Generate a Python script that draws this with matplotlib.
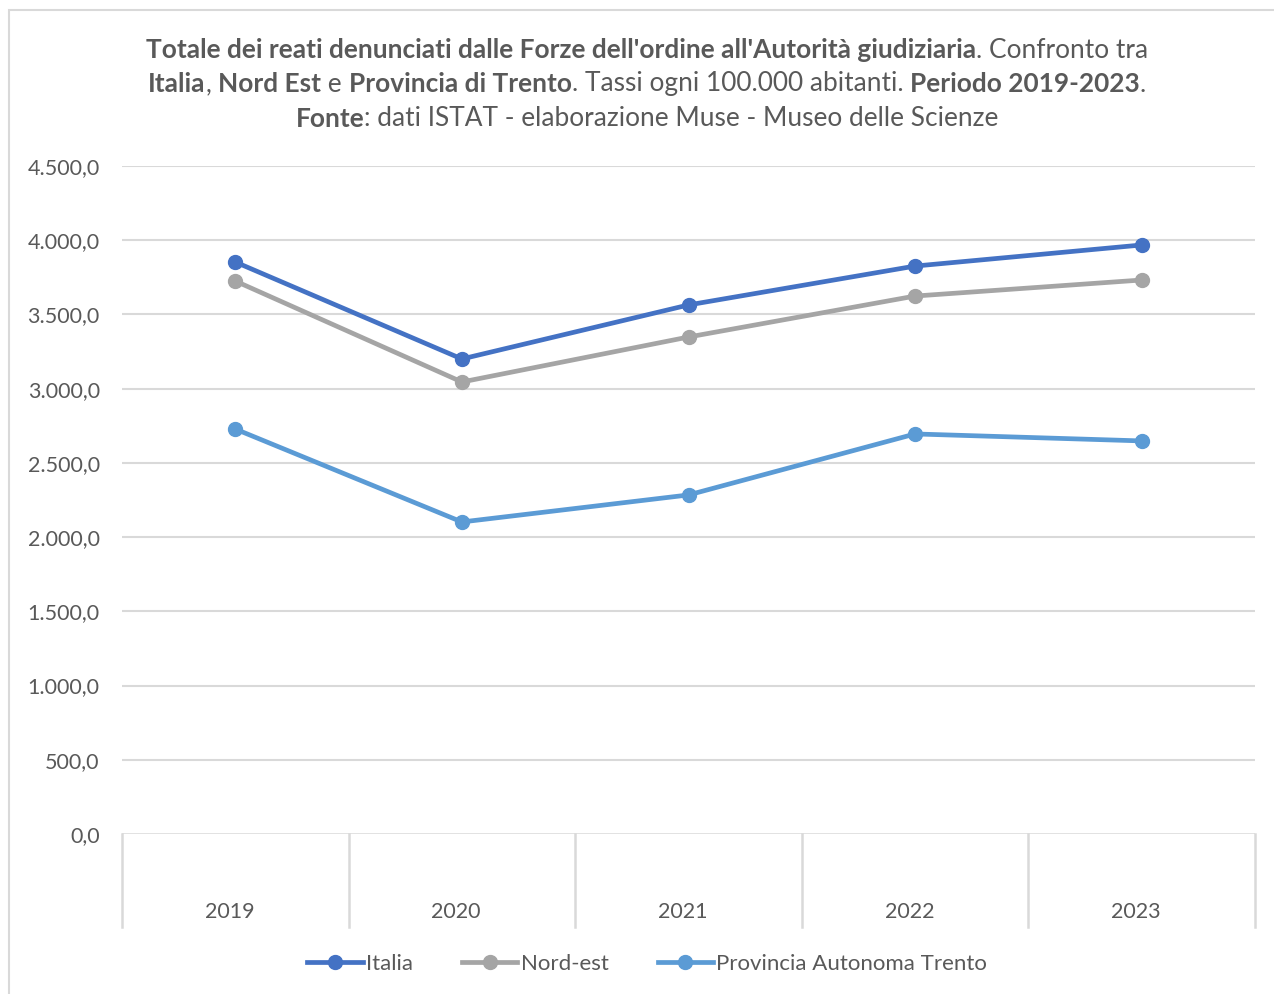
import matplotlib
matplotlib.use("Agg")
import matplotlib.pyplot as plt
from matplotlib.patches import Rectangle
from matplotlib.lines import Line2D

# data
anni = ["2019", "2020", "2021", "2022", "2023"]
italia = [3853, 3200, 3564, 3826, 3968]
nord_est = [3725, 3045, 3348, 3624, 3732]
trento = [2728, 2102, 2284, 2695, 2648]
serie = ["Italia", "Nord-est", "Provincia Autonoma Trento"]
colori = ["#4472C4", "#A5A5A5", "#5B9BD5"]
y_ticks = [0, 500, 1000, 1500, 2000, 2500, 3000, 3500, 4000, 4500]

FONT = "Lato"
GREY_TXT = "#595959"
GRID = "#d9d9d9"

W, H = 1274, 994
fig = plt.figure(figsize=(W / 100, H / 100), dpi=100)
plt.rcParams['font.family'] = [FONT, 'DejaVu Sans']

# outer chart border (only left/top visible in the reference)
fig.add_artist(Rectangle((9 / W, -0.1), 1.2, 1.1 - 10 / H, transform=fig.transFigure,
                         fill=False, edgecolor=GRID, lw=1.5))

# plot area in pixel coords
x0, x1, ytop, ybot = 122, 1255, 166, 834
ax = fig.add_axes([x0 / W, 1 - ybot / H, (x1 - x0) / W, (ybot - ytop) / H])
ax.set_xlim(-0.5, len(anni) - 0.5)
ax.set_ylim(0, 4500)
for s in ax.spines.values():
    s.set_visible(False)
ax.set_yticks(y_ticks)
ax.set_yticklabels([f"{v:,.1f}".replace(",", "X").replace(".", ",").replace("X", ".") for v in y_ticks],
                   fontsize=15.5, color=GREY_TXT)
ax.tick_params(axis="y", length=0, pad=16)
ax.set_xticks([])
for v in y_ticks[1:]:
    ax.axhline(v, color=GRID, lw=1.5, zorder=1)
ax.axhline(0, color=GRID, lw=1.8, zorder=1)

# category dividers below the axis + labels
drop = (927 - ybot) / (ybot - ytop)
lab_y = (912 - ybot) / (ybot - ytop)
trans = ax.get_xaxis_transform()
for i in range(len(anni) + 1):
    ax.plot([i - 0.5, i - 0.5], [0, -drop], transform=trans, color=GRID, lw=1.8, clip_on=False)
for i, a in enumerate(anni):
    ax.text(i - 0.025, -lab_y, a, transform=trans, ha="center", va="center", fontsize=15.5,
            color=GREY_TXT)

xs = range(len(anni))
for vals, lab, c in zip([italia, nord_est, trento], serie, colori):
    ax.plot(xs, vals, color=c, lw=3.4, marker="o", markersize=10, label=lab, zorder=3,
            solid_capstyle="round")

handles = [Line2D([], [], color=c, lw=3.4, marker="o", markersize=10) for c in colori]
leg = fig.legend(handles, serie, loc="center", bbox_to_anchor=(0.508, 1 - 964 / H), ncol=3,
                 frameon=False, fontsize=16, handlelength=2.5, handletextpad=0.15,
                 columnspacing=2.2, labelcolor=GREY_TXT)

# title with mixed weights
title_lines = [
    [("Totale dei reati denunciati dalle Forze dell'ordine all'Autorità giudiziaria", True),
     (". Confronto tra", False)],
    [("Italia", True), (", ", False), ("Nord Est", True), (" e ", False),
     ("Provincia di Trento", True), (". Tassi ogni 100.000 abitanti. ", False),
     ("Periodo 2019-2023", True), (".", False)],
    [("Fonte", True), (": dati ISTAT - elaborazione Muse - Museo delle Scienze", False)],
]
line_y = [50, 84, 119]
fig.canvas.draw()
rend = fig.canvas.get_renderer()
cx = 647
for segs, py in zip(title_lines, line_y):
    texts = []
    for t, b in segs:
        txt = fig.text(0, 1 - py / H, t, fontsize=18.9, color=GREY_TXT,
                       fontweight="bold" if b else "normal", va="center", ha="left")
        texts.append(txt)
    widths = [tx.get_window_extent(rend).width for tx in texts]
    total = sum(widths)
    x = cx - total / 2
    for tx, w in zip(texts, widths):
        tx.set_x(x / W)
        x += w

fig.savefig("out.png", dpi=100, facecolor="white")
